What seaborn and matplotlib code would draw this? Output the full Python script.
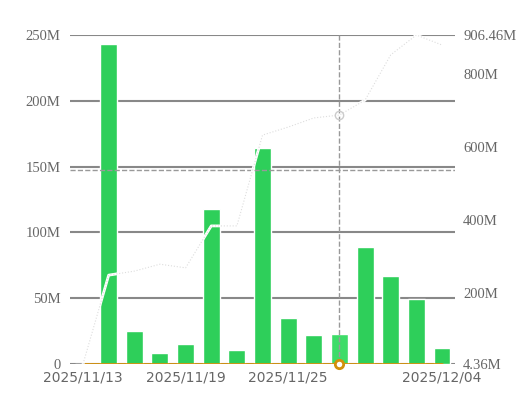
import matplotlib
matplotlib.use("Agg")
import matplotlib.pyplot as plt
import seaborn as sns
import numpy as np
import pandas as pd

dates = ["2025/11/13","2025/11/14","2025/11/17","2025/11/18","2025/11/19","2025/11/20",
         "2025/11/21","2025/11/24","2025/11/25","2025/11/26","2025/11/28","2025/12/01",
         "2025/12/02","2025/12/03","2025/12/04"]
bars_m = [0, 243, 25, 8, 15.5, 118, 11, 164, 35, 22, 22.5, 89, 67, 49.5, 12.5]
line_m = [4.36, 248, 259, 278, 268, 383, 383, 632, 654, 679, 687, 728, 852, 906.46, 879]
zero_line = [0]*15
left_ticks = [0, 50, 100, 150, 200, 250]
left_labels = ["0", "50M", "100M", "150M", "200M", "250M"]
right_ticks = [4.36, 200, 400, 600, 800, 906.46]
right_labels = ["4.36M", "200M", "400M", "600M", "800M", "906.46M"]
shown_ticks = [0, 4, 8, 14]
hover = 10

sns.set_style("white")
fig = plt.figure(figsize=(5.24, 4), dpi=100)
ax = fig.add_axes([0.134, 0.09, 0.734, 0.8225])
df = pd.DataFrame({"d": dates, "v": bars_m, "i": range(15)})
palette = ["#3ddc68" if i == hover else "#2ecf5a" for i in range(15)]
sns.barplot(data=df, x="i", y="v", hue="i", palette=palette, legend=False,
            width=0.66, saturation=1, ax=ax, zorder=3)
for y in left_ticks:
    ax.axhline(y, color="#888888", lw=1.5, zorder=1)
ax.set_ylim(0, 250)
ax.set_xlim(-0.5, 14.5)
ax.set_yticks(left_ticks)
ax.set_yticklabels(left_labels, family="Liberation Serif", fontsize=10.5, color="#666666")
ax.set_xticks(shown_ticks)
ax.set_xticklabels([dates[i] for i in shown_ticks], fontsize=10, color="#666666")
ax.tick_params(axis="y", length=0, pad=7)
ax.tick_params(axis="x", length=0, pad=5)
ax.set_xlabel(""); ax.set_ylabel("")
sns.despine(ax=ax, left=True, right=True, top=True, bottom=True)
ax.plot(range(15), zero_line, color="#d4900a", lw=2, zorder=5)
ax.plot([hover], [0], marker="o", ms=6, mfc="white", mec="#d4900a", mew=2, zorder=6, clip_on=False)
ax.axvline(hover, color="#999999", ls="--", lw=1, zorder=4)
ax.axhline(147.4, color="#999999", ls="--", lw=1, zorder=4)

ax2 = ax.twinx()
sns.lineplot(x=list(range(15)), y=line_m, ax=ax2, color="white", lw=2, zorder=5)
ax2.plot(range(15), line_m, color="#dddddd", lw=0.8, ls=":", zorder=6)
ax2.plot([hover], [line_m[hover]], marker="o", ms=6, mfc="none", mec="#cccccc", zorder=7)
ax2.set_ylim(4.36, 906.46)
ax2.set_yticks(right_ticks)
ax2.set_yticklabels(right_labels, family="Liberation Serif", fontsize=10.5, color="#666666")
ax2.tick_params(length=0, pad=6)
ax2.grid(False)
sns.despine(ax=ax2, left=True, right=True, top=True, bottom=True)
ax.set_zorder(1); ax2.set_zorder(2)
fig.savefig("out.png", dpi=100)
